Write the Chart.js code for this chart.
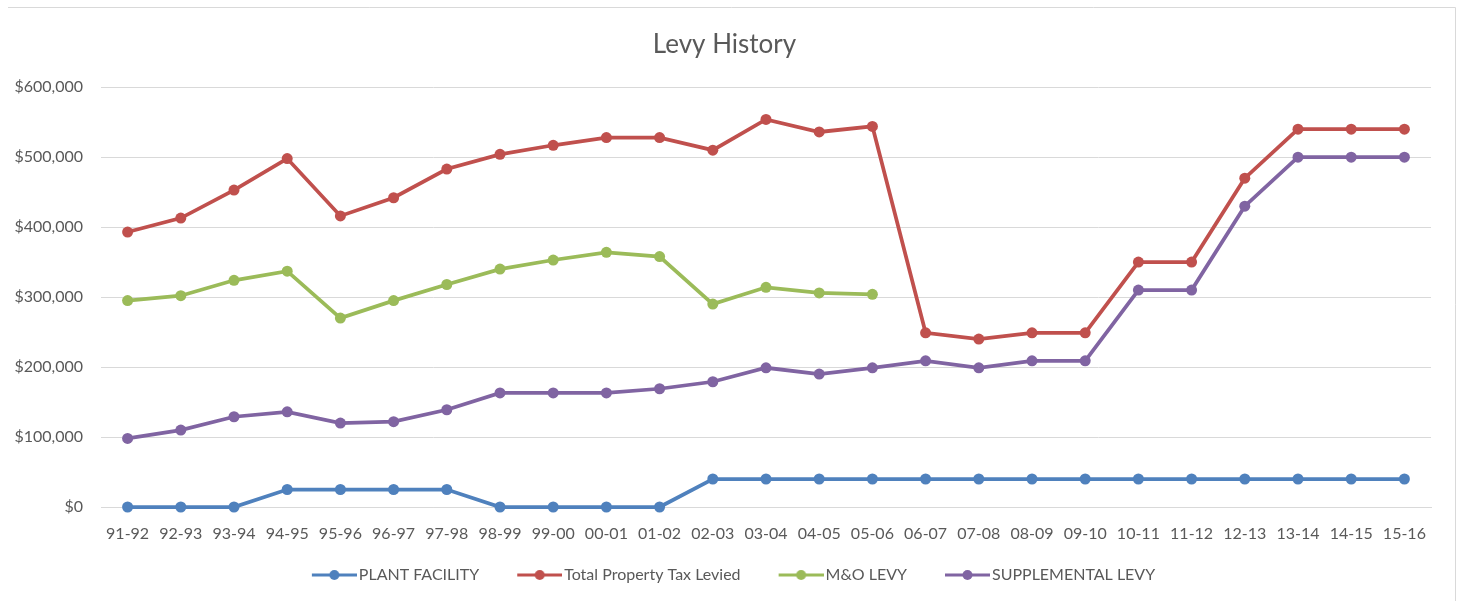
<!DOCTYPE html>
<html>
<head>
<meta charset="utf-8">
<title>Levy History</title>
<script src="https://cdn.jsdelivr.net/npm/chart.js@4.4.0/dist/chart.umd.min.js"></script>
<style>
  html, body { margin: 0; padding: 0; background: #fff; }
  #wrap { width: 1457px; height: 601px; position: relative; }
</style>
</head>
<body>
<div id="wrap"><canvas id="canvas"></canvas></div>
<script>
var years = ["91-92", "92-93", "93-94", "94-95", "95-96", "96-97", "97-98", "98-99", "99-00", "00-01",
             "01-02", "02-03", "03-04", "04-05", "05-06", "06-07", "07-08", "08-09", "09-10", "10-11",
             "11-12", "12-13", "13-14", "14-15", "15-16"];

var plantFacility = [0, 0, 0, 25000, 25000, 25000, 25000, 0, 0, 0,
                     0, 40000, 40000, 40000, 40000, 40000, 40000, 40000, 40000, 40000,
                     40000, 40000, 40000, 40000, 40000];

var totalLevied = [393000, 413000, 453000, 498000, 416000, 442000, 483000, 504000, 517000, 528000,
                   528000, 510000, 554000, 536000, 544000, 249000, 240000, 249000, 249000, 350000,
                   350000, 470000, 540000, 540000, 540000];

var mAndO = [295000, 302000, 324000, 337000, 270000, 295000, 318000, 340000, 353000, 364000,
             358000, 290000, 314000, 306000, 304000, null, null, null, null, null,
             null, null, null, null, null];

var supplemental = [98000, 110000, 129000, 136000, 120000, 122000, 139000, 163000, 163000, 163000,
                    169000, 179000, 199000, 190000, 199000, 209000, 199000, 209000, 209000, 310000,
                    310000, 430000, 500000, 500000, 500000];

var yTicks = [0, 100000, 200000, 300000, 400000, 500000, 600000];

var textColor = "#595959";
var fontName = "Lato, 'Open Sans', sans-serif";
var iconBox = 57;   // legend box width, leaves blank room before each icon

// little line+dot picture for legend entries, like excel.
// image is 12px wider than the box so the line runs close up to the text
function legendIcon(color) {
    var c = document.createElement("canvas");
    var w = iconBox + 12;
    c.width = w;
    c.height = 12;
    var g = c.getContext("2d");
    g.strokeStyle = color;
    g.lineWidth = 3;
    g.beginPath();
    g.moveTo(w - 45, 6);
    g.lineTo(w, 6);
    g.stroke();
    g.fillStyle = color;
    g.beginPath();
    g.arc(w - 22.5, 6, 5, 0, Math.PI * 2);
    g.fill();
    return c;
}

function makeSet(label, data, color) {
    return {
        label: label,
        data: data,
        borderColor: color,
        backgroundColor: color,
        borderWidth: 3.75,
        pointRadius: 5.5,
        pointHoverRadius: 5.5,
        pointBorderWidth: 0,
        pointStyle: "circle",
        legendIcon: legendIcon(color),
        tension: 0,
        clip: false,
        spanGaps: false
    };
}

var datasets = [
    makeSet("PLANT FACILITY", plantFacility, "#4f81bd"),
    makeSet("Total Property Tax Levied", totalLevied, "#c0504d"),
    makeSet("M&O LEVY", mAndO, "#9bbb59"),
    makeSet("SUPPLEMENTAL LEVY", supplemental, "#8064a2")
];

var frame = {
    id: "frame",
    beforeDraw: function (chart) {
        var ctx = chart.ctx;
        ctx.save();
        ctx.strokeStyle = "#d9d9d9";
        ctx.lineWidth = 1;
        ctx.beginPath();
        ctx.moveTo(8, 7.5);
        ctx.lineTo(1455.5, 7.5);
        ctx.lineTo(1455.5, 601);
        ctx.stroke();
        ctx.restore();
    }
};

new Chart(document.getElementById("canvas"), {
    type: "line",
    data: {
        labels: years,
        datasets: datasets
    },
    plugins: [frame],
    options: {
        responsive: true,
        maintainAspectRatio: false,
        animation: false,
        layout: {
            padding: { left: 0, right: 8, top: 14, bottom: 8 }
        },
        plugins: {
            title: {
                display: true,
                text: "Levy History",
                color: textColor,
                font: { family: fontName, size: 26, weight: "normal" },
                padding: { top: 15, bottom: 27 }
            },
            legend: {
                position: "bottom",
                labels: {
                    color: textColor,
                    font: { family: fontName, size: 16 },
                    usePointStyle: true,
                    pointStyleWidth: iconBox,
                    padding: 20,
                    generateLabels: function (chart) {
                        return chart.data.datasets.map(function (d, i) {
                            return {
                                text: d.label,
                                fillStyle: d.borderColor,
                                strokeStyle: d.borderColor,
                                lineWidth: 0,
                                pointStyle: d.legendIcon,
                                fontColor: textColor,
                                datasetIndex: i,
                                hidden: false
                            };
                        });
                    }
                }
            },
            tooltip: { enabled: false }
        },
        scales: {
            x: {
                offset: true,
                afterFit: function (scale) { scale.height = 40; },
                grid: { display: false, drawTicks: false },
                border: { color: "#d9d9d9", width: 1 },
                ticks: {
                    color: textColor,
                    font: { family: fontName, size: 16 },
                    padding: 17,
                    maxRotation: 0,
                    autoSkip: false
                }
            },
            y: {
                min: 0,
                max: 600000,
                afterFit: function (scale) { scale.width = 101; },
                afterBuildTicks: function (scale) {
                    scale.ticks = yTicks.map(function (v) { return { value: v }; });
                },
                grid: { color: "#d9d9d9", lineWidth: 1, drawTicks: false },
                border: { display: false },
                ticks: {
                    color: textColor,
                    font: { family: fontName, size: 16 },
                    padding: 18,
                    callback: function (v) {
                        return "$" + v.toLocaleString("en-US");
                    }
                }
            },
            // empty right margin so title and legend centre like the original
            spacer: {
                position: "right",
                afterFit: function (scale) { scale.width = 18; },
                grid: { display: false, drawTicks: false },
                border: { display: false },
                ticks: { display: false }
            }
        }
    }
});
</script>
</body>
</html>
